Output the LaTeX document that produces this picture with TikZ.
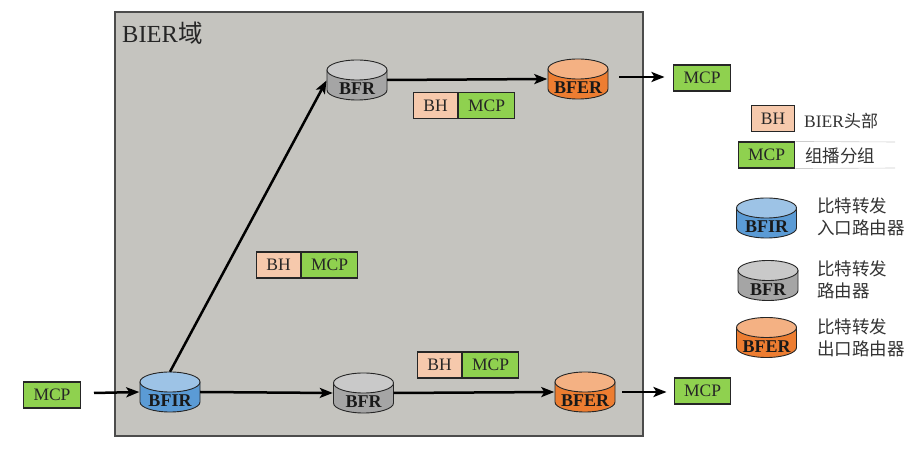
\documentclass[tikz,border=0pt]{standalone}
\usepackage{fontspec}
\setmainfont{Liberation Serif}
\newfontfamily\cjk{Noto Sans CJK SC}
\usetikzlibrary{arrows.meta}
\definecolor{domainc}{HTML}{C5C4BF}
\definecolor{bhc}{HTML}{F6C9AC}
\definecolor{mcpc}{HTML}{8FD14F}
\definecolor{blueB}{HTML}{5B9BD5}
\definecolor{blueT}{HTML}{9DC3E6}
\definecolor{grayB}{HTML}{A5A5A5}
\definecolor{grayT}{HTML}{C9C9C9}
\definecolor{orangeB}{HTML}{ED7D31}
\definecolor{orangeT}{HTML}{F4B183}
\tikzset{
  x=1pt,y=-1pt,
  flow/.style={draw=black,line width=2.5pt,-{Stealth[length=13pt,width=10pt,inset=3pt]},shorten >=0.5pt},
  box/.style={draw=black!85,line width=1.1pt,inner sep=0pt,minimum height=26pt,font=\fontsize{17.5}{18}\selectfont,text=black!85},
  bhbox/.style={box,fill=bhc,minimum width=43.5pt},
  mcpbox/.style={box,fill=mcpc,minimum width=56.5pt},
  drumbase/.style={inner sep=0pt,minimum width=60pt,minimum height=40pt},
  drumtext/.style={inner sep=0pt,font=\fontsize{18}{18}\selectfont\bfseries,text=black!90},
  legend/.style={inner sep=0pt,anchor=west,text=black!80,font=\fontsize{17.5}{18}\selectfont},
  legendcjk/.style={legend,font=\cjk\fontsize{17.5}{22}\selectfont,align=left},
}
\newcommand{\drum}[6]{%
  \node[drumbase] (#1) at (#2,#3) {};
  \draw[line width=0.9pt,draw=black!85,fill=#5] (#2-30,#3-10) -- (#2-30,#3+10) arc[start angle=180,end angle=360,x radius=30,y radius=-10] -- (#2+30,#3-10) -- cycle;
  \draw[line width=0.9pt,draw=black!85,fill=#6] (#2,#3-10) ellipse[x radius=30,y radius=10];
  \node[drumtext] (#1t) at (#2,#3+9) {#4};
}
\begin{document}
\begin{tikzpicture}
\useasboundingbox (0,0) rectangle (911,454);
\node[draw=black!70,line width=1.2pt,fill=domainc,minimum width=528pt,minimum height=424pt,inner sep=0pt] (domain) at (379,224) {};
\node[inner sep=0pt,anchor=west,text=black!85,font=\fontsize{24.5}{26}\selectfont] (domlabel) at (122,33) {BIER{\cjk 域}};

\drum{bfir}{170}{392}{BFIR}{blueB}{blueT}
\drum{bfrtop}{357}{80}{BFR}{grayB}{grayT}
\drum{bfertop}{578}{79}{BFER}{orangeB}{orangeT}
\drum{bfrlow}{363.5}{393}{BFR}{grayB}{grayT}
\drum{bferlow}{585}{392}{BFER}{orangeB}{orangeT}

\node[mcpbox] (mcpin) at (52,395) {MCP};
\node[mcpbox] (mcpouta) at (702,78) {MCP};
\node[mcpbox] (mcpoutb) at (702.5,391) {MCP};
\coordinate (ina) at (94,393);
\coordinate (outa) at (619,77);
\coordinate (outb) at (622,392);
\coordinate (inb) at (665,77);
\coordinate (inc) at (667,392);

\draw[flow] (ina) -- (bfir.west);
\draw[flow] (bfir.east) -- (bfrlow.west);
\draw[flow] (bfrlow.east) -- (bferlow.west);
\draw[flow] (bfir.north) -- (bfrtop.west);
\draw[flow] (bfrtop.east) -- (bfertop.west);
\draw[flow] (outa) -- (inb);
\draw[flow] (outb) -- (inc);

\node[bhbox] (bha) at (435.5,105.5) {BH};
\node[mcpbox,anchor=west] (mcpa) at (bha.east) {MCP};
\node[bhbox] (bhb) at (278.5,265) {BH};
\node[mcpbox,anchor=west] (mcpb) at (bhb.east) {MCP};
\node[bhbox] (bhc) at (439.5,365) {BH};
\node[mcpbox,anchor=west] (mcpc) at (bhc.east) {MCP};

\node[bhbox] (lbh) at (773,118.5) {BH};
\node[mcpbox] (lmcp) at (766.5,155) {MCP};
\coordinate (lineend1) at (895,142);
\coordinate (lineend2) at (895,168);
\draw[black!20,line width=0.6pt] (lmcp.north east) -- (lineend1);
\draw[black!20,line width=0.6pt] (lmcp.south east) -- (lineend2);
\node[legend] (ltxta) at (804,120.5) {BIER{\cjk\fontsize{17}{18}\selectfont 头部}};
\node[legendcjk] (ltxtb) at (805,156) {组播分组};

\drum{lbfir}{766.5}{218}{BFIR}{blueB}{blueT}
\drum{lbfr}{768}{280.5}{BFR}{grayB}{grayT}
\drum{lbfer}{766.5}{337.5}{BFER}{orangeB}{orangeT}
\node[legendcjk] (ltxtc) at (817,217) {比特转发\\入口路由器};
\node[legendcjk] (ltxtd) at (817,280) {比特转发\\路由器};
\node[legendcjk] (ltxte) at (817,338) {比特转发\\出口路由器};
\end{tikzpicture}
\end{document}
